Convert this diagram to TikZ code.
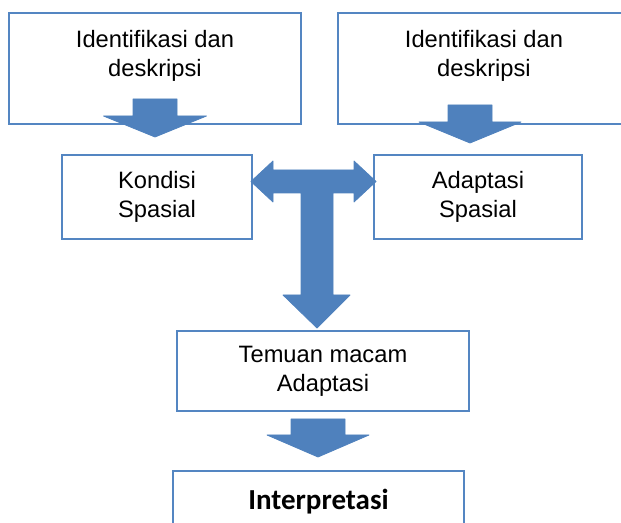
\documentclass[tikz,border=0pt]{standalone}
\usepackage{fontspec}
\setmainfont{Liberation Sans}
\newfontfamily\carlitofont{Carlito}
\usepackage{tikz}
\usetikzlibrary{positioning,calc}
\definecolor{ofblue}{RGB}{79,129,189}
\definecolor{ofline}{RGB}{84,134,194}
\tikzstyle{box} = [rectangle, draw=ofline, line width=1.1pt, fill=white, inner sep=0pt, align=center, font=\fontsize{11.85pt}{14.5pt}\selectfont]
\tikzstyle{boxtext} = [inner sep=0pt, align=center, font=\fontsize{11.85pt}{14.5pt}\selectfont]
\tikzstyle{fatarrow} = [fill=ofblue, draw=ofblue, line width=0.4pt, line join=round]
% block arrow pointing down: x, shaft top, head base, tip, half shaft, half head
\newcommand{\fatdown}[6]{%
  \filldraw[fatarrow] (#1-#5,#2) -- (#1+#5,#2) -- (#1+#5,#3) -- (#1+#6,#3) -- (#1,#4)
    -- (#1-#6,#3) -- (#1-#5,#3) -- cycle;}

\begin{document}
\begin{tikzpicture}[x=0.5pt, y=-0.5pt]
\useasboundingbox (0,0) rectangle (621,523);

\node[box, minimum width=146pt, minimum height=55.5pt] (ident1) at (155,68.5) {};
\node[boxtext] (ident1txt) at (155,55.4) {Identifikasi dan\\deskripsi};
\node[box, minimum width=146pt, minimum height=55.5pt] (ident2) at (484,68.5) {};
\node[boxtext] (ident2txt) at (484,55.4) {Identifikasi dan\\deskripsi};

\node[box, minimum width=95pt, minimum height=42pt] (kondisi) at (157,197) {Kondisi\\Spasial};
\node[box, minimum width=104pt, minimum height=42pt] (adaptasi) at (478,197) {Adaptasi\\Spasial};
\node[box, minimum width=146pt, minimum height=40pt] (temuan) at (323,371) {Temuan macam\\Adaptasi};
\node[box, minimum width=145.5pt, minimum height=31pt, font=\carlitofont\bfseries\fontsize{14.5pt}{17pt}\selectfont] (interp) at (318.5,502) {Interpretasi};

% block arrows
\fatdown{155}{99}{116}{137}{22}{51.5}
\fatdown{470}{105}{122}{143}{22}{51}
\fatdown{318}{419}{435}{457}{27}{51}

% double arrow with stem down to temuan
\filldraw[fatarrow] (251,181.5) -- (273,161) -- (273,170) -- (354,170) -- (354,161)
  -- (376,181.5) -- (354,202) -- (354,193) -- (333,193) -- (333,295) -- (350,295)
  -- (317,328) -- (283,295) -- (301,295) -- (301,193) -- (273,193) -- (273,202) -- cycle;
\end{tikzpicture}
\end{document}
